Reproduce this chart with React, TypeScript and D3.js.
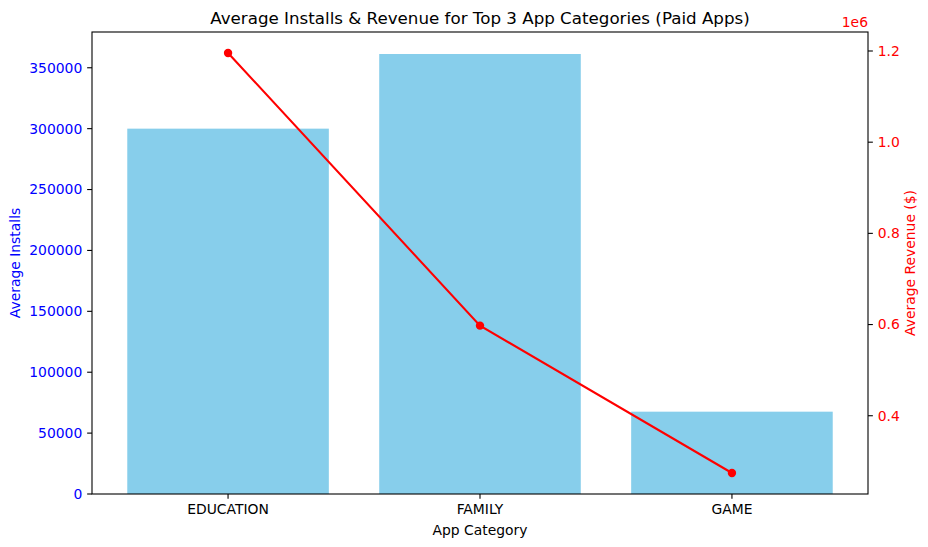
import React from 'react';
import * as d3 from 'd3';

const categories = ['EDUCATION', 'FAMILY', 'GAME'];
const avgInstalls = [300000, 361300, 67600];
const avgRevenue = [1195600, 597600, 274400];
const installTicks = [0, 50000, 100000, 150000, 200000, 250000, 300000, 350000];
const revenueTicks = [400000, 600000, 800000, 1000000, 1200000];

const width = 928;
const height = 547;
const margin = { left: 92, right: 60, top: 32, bottom: 53 };
const font = 'DejaVu Sans, sans-serif';

export default () => {
  const x0 = margin.left;
  const x1 = width - margin.right;
  const y0 = height - margin.bottom;
  const y1 = margin.top;

  // category positions like matplotlib: 0,1,2 with 0.8 wide bars
  const xScale = d3.scaleLinear().domain([-0.54, 2.54]).range([x0, x1]);
  const yLeft = d3.scaleLinear().domain([0, 361300 * 1.05]).range([y0, y1]);
  const rMin = d3.min(avgRevenue)!;
  const rMax = d3.max(avgRevenue)!;
  const pad = (rMax - rMin) * 0.05;
  const yRight = d3.scaleLinear().domain([rMin - pad, rMax + pad]).range([y0, y1]);

  const line = d3
    .line<number>()
    .x((_, i) => xScale(i))
    .y(d => yRight(d));

  const tick = 4.86;

  return (
    <svg width={width} height={height} style={{ position: 'absolute', left: 0, top: 0 }} fontFamily={font}>
      <rect width={width} height={height} fill="white" />
      <g>
        {avgInstalls.map((v, i) => (
          <rect
            key={categories[i]}
            x={xScale(i - 0.4)}
            y={yLeft(v)}
            width={xScale(0.4) - xScale(-0.4)}
            height={y0 - yLeft(v)}
            fill="#87CEEB"
          />
        ))}
      </g>
      <path d={line(avgRevenue) || ''} fill="none" stroke="red" strokeWidth={2.08} />
      {avgRevenue.map((v, i) => (
        <circle key={i} cx={xScale(i)} cy={yRight(v)} r={4.2} fill="red" />
      ))}
      <rect x={x0} y={y1} width={x1 - x0} height={y0 - y1} fill="none" stroke="black" strokeWidth={1.1} />

      {/* left axis */}
      {installTicks.map(t => (
        <g key={t} transform={`translate(${x0},${yLeft(t)})`}>
          <line x1={-tick} x2={0} stroke="black" strokeWidth={1.1} />
          <text x={-tick - 4.86} dy="0.35em" textAnchor="end" fontSize={13.9} fill="blue">
            {t}
          </text>
        </g>
      ))}
      {/* right axis */}
      {revenueTicks.map(t => (
        <g key={t} transform={`translate(${x1},${yRight(t)})`}>
          <line x1={0} x2={tick} stroke="black" strokeWidth={1.1} />
          <text x={tick + 4.86} dy="0.35em" textAnchor="start" fontSize={13.9} fill="red">
            {(t / 1e6).toFixed(1)}
          </text>
        </g>
      ))}
      <text x={x1} y={27} textAnchor="end" fontSize={13.9} fill="red">1e6</text>
      {/* x axis */}
      {categories.map((c, i) => (
        <g key={c} transform={`translate(${xScale(i)},${y0})`}>
          <line y1={0} y2={tick} stroke="black" strokeWidth={1.1} />
          <text y={tick + 4.86} dy="0.76em" textAnchor="middle" fontSize={13.9} fill="black">
            {c}
          </text>
        </g>
      ))}
      <text x={(x0 + x1) / 2} y={535} textAnchor="middle" fontSize={13.9}>App Category</text>
      <text transform={`translate(20,${(y0 + y1) / 2}) rotate(-90)`} textAnchor="middle" fontSize={13.9} fill="blue">
        Average Installs
      </text>
      <text transform={`translate(915,${(y0 + y1) / 2}) rotate(-90)`} textAnchor="middle" fontSize={13.9} fill="red">
        Average Revenue ($)
      </text>
      <text x={(x0 + x1) / 2} y={24} textAnchor="middle" fontSize={16.7}>
        Average Installs &amp; Revenue for Top 3 App Categories (Paid Apps)
      </text>
    </svg>
  );
};
